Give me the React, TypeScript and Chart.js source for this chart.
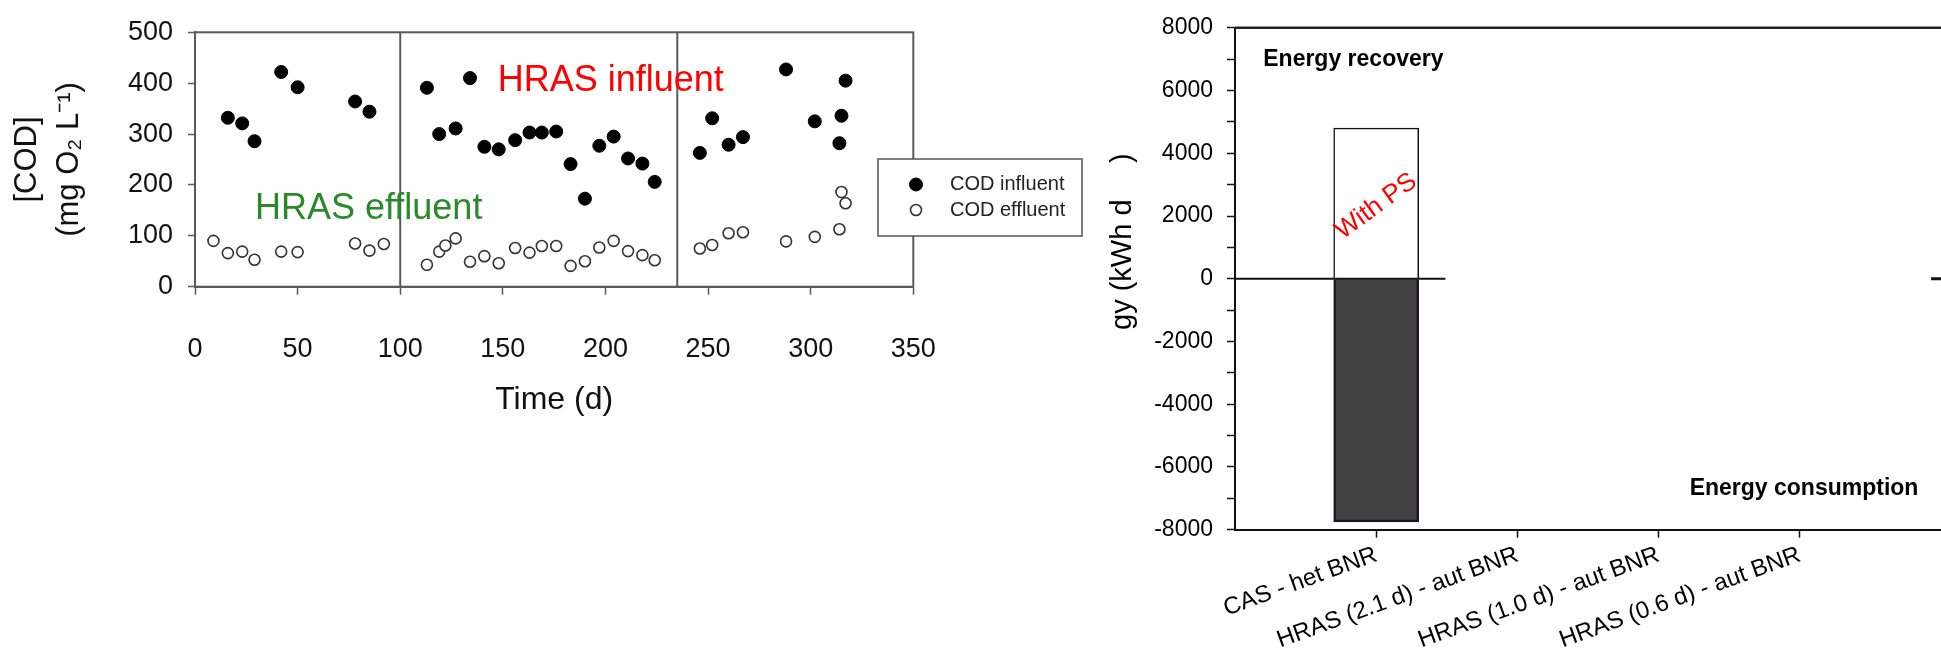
import React, { useEffect, useRef } from 'react';
import { Chart, registerables } from 'chart.js';

Chart.register(...registerables);

const FONT = '"Liberation Sans", Arial, Helvetica, sans-serif';

// ---------- Left panel: COD over time ----------
const influentDays = [16, 23, 29, 42, 50, 78, 85, 113, 119, 127, 134, 141, 148, 156, 163, 169, 176, 183, 190, 197, 204, 211, 218, 224, 246, 252, 260, 267, 288, 302, 314, 315, 317];
const influentCOD = [332, 321, 286, 422, 392, 364, 344, 391, 300, 311, 410, 275, 270, 288, 303, 303, 305, 241, 173, 277, 295, 252, 242, 206, 263, 331, 279, 294, 427, 325, 282, 336, 405];
const effluentDays = [9, 16, 23, 29, 42, 50, 78, 85, 92, 113, 119, 122, 127, 134, 141, 148, 156, 163, 169, 176, 183, 190, 197, 204, 211, 218, 224, 246, 252, 260, 267, 288, 302, 314, 315, 317];
const effluentCOD = [90, 66, 69, 53, 69, 68, 85, 71, 84, 43, 69, 81, 95, 49, 60, 46, 76, 67, 80, 80, 41, 50, 77, 90, 70, 62, 52, 75, 82, 105, 107, 89, 98, 113, 186, 164];
const phaseBoundaries = [100, 235];
const timeTicks = [0, 50, 100, 150, 200, 250, 300, 350];
const codTicks = [0, 100, 200, 300, 400, 500];

// ---------- Right panel: energy balance ----------
const categories = ['CAS - het BNR', 'HRAS (2.1 d) - aut BNR', 'HRAS (1.0 d) - aut BNR', 'HRAS (0.6 d) - aut BNR'];
const recoveryWithPS = [4800];
const consumption = [-7750];
const zeroLineSegments = [[0, 1.49], [4.93, 5]];

const leftPlugin = {
  id: 'leftDecor',
  beforeDatasetsDraw(chart: any) {
    const { ctx, chartArea: a, scales } = chart;
    ctx.save();
    ctx.strokeStyle = '#5a5a5a';
    ctx.lineWidth = 2;
    ctx.strokeRect(a.left, a.top, a.right - a.left, a.bottom - a.top);
    phaseBoundaries.forEach((d) => {
      const px = scales.x.getPixelForValue(d);
      ctx.beginPath();
      ctx.moveTo(px, a.top);
      ctx.lineTo(px, a.bottom);
      ctx.stroke();
    });
    ctx.restore();
  },
  afterDatasetsDraw(chart: any) {
    const { ctx, scales } = chart;
    ctx.save();
    ctx.font = `36px ${FONT}`;
    ctx.textAlign = 'left';
    ctx.textBaseline = 'alphabetic';
    ctx.fillStyle = '#ff0000';
    ctx.fillText('HRAS influent', scales.x.getPixelForValue(147.5), scales.y.getPixelForValue(385));
    ctx.fillStyle = '#2a8a2a';
    ctx.fillText('HRAS effluent', scales.x.getPixelForValue(29.2), scales.y.getPixelForValue(134));
    ctx.restore();
  },
  afterDraw(chart: any) {
    const { ctx } = chart;
    const ds = chart.data.datasets;
    ctx.save();
    const bx = 878, by = 159, bw = 204, bh = 77;
    ctx.fillStyle = '#fff';
    ctx.fillRect(bx, by, bw, bh);
    ctx.strokeStyle = '#555';
    ctx.lineWidth = 1.5;
    ctx.strokeRect(bx, by, bw, bh);
    const rows = [184.5, 210];
    ds.forEach((d: any, i: number) => {
      ctx.beginPath();
      ctx.arc(916, rows[i], d.pointRadius, 0, Math.PI * 2);
      ctx.fillStyle = d.pointBackgroundColor;
      ctx.fill();
      ctx.lineWidth = d.pointBorderWidth;
      ctx.strokeStyle = d.pointBorderColor;
      ctx.stroke();
      ctx.fillStyle = '#222';
      ctx.font = `20px ${FONT}`;
      ctx.textAlign = 'left';
      ctx.textBaseline = 'middle';
      ctx.fillText(d.label, 950, rows[i]);
    });
    ctx.restore();
  },
};

const rightPlugin = {
  id: 'rightDecor',
  afterDraw(chart: any) {
    const { ctx, chartArea: a, scales } = chart;
    ctx.save();
    // top frame line
    ctx.strokeStyle = '#222';
    ctx.lineWidth = 2.5;
    ctx.beginPath();
    ctx.moveTo(a.left, a.top);
    ctx.lineTo(a.right, a.top);
    ctx.stroke();

    // partially visible axis title
    ctx.save();
    ctx.translate(33, 330);
    ctx.rotate(-Math.PI / 2);
    ctx.font = `29px ${FONT}`;
    ctx.fillStyle = '#000';
    ctx.textAlign = 'left';
    ctx.textBaseline = 'middle';
    ctx.fillText('gy (kWh d', 0, 0);
    ctx.fillText(')', 167, 0);
    ctx.restore();

    ctx.font = `bold 23px ${FONT}`;
    ctx.fillStyle = '#000';
    ctx.textBaseline = 'middle';
    ctx.textAlign = 'left';
    ctx.fillText('Energy recovery', scales.x.getPixelForValue(0.2), scales.y.getPixelForValue(7000));
    ctx.textAlign = 'right';
    ctx.fillText('Energy consumption', scales.x.getPixelForValue(4.84), scales.y.getPixelForValue(-6705));

    ctx.save();
    ctx.translate(scales.x.getPixelForValue(1), scales.y.getPixelForValue(2306));
    ctx.rotate((-36 * Math.PI) / 180);
    ctx.font = `26px ${FONT}`;
    ctx.fillStyle = '#ff0000';
    ctx.textAlign = 'center';
    ctx.textBaseline = 'middle';
    ctx.fillText('With PS', 0, 0);
    ctx.restore();
    ctx.restore();
  },
};

export default function App() {
  const leftRef = useRef<HTMLCanvasElement>(null);
  const rightRef = useRef<HTMLCanvasElement>(null);

  useEffect(() => {
    const left = new Chart(leftRef.current as HTMLCanvasElement, {
      type: 'scatter',
      data: {
        datasets: [
          {
            label: 'COD influent',
            data: influentDays.map((d, i) => ({ x: d, y: influentCOD[i] })),
            pointRadius: 6.5,
            pointBackgroundColor: '#000',
            pointBorderColor: '#000',
            pointBorderWidth: 1,
            showLine: false,
          },
          {
            label: 'COD effluent',
            data: effluentDays.map((d, i) => ({ x: d, y: effluentCOD[i] })),
            pointRadius: 5.5,
            pointBackgroundColor: '#fff',
            pointBorderColor: '#333',
            pointBorderWidth: 1.6,
            showLine: false,
          },
        ],
      } as any,
      options: {
        animation: false,
        responsive: false,
        layout: { padding: { top: 32.3, right: 176.7, bottom: 0, left: 0 } },
        plugins: { legend: { display: false }, tooltip: { enabled: false } },
        scales: {
          x: {
            type: 'linear',
            min: 0,
            max: 350,
            afterBuildTicks: (s: any) => { s.ticks = timeTicks.map((v) => ({ value: v })); },
            afterFit: (s: any) => { s.height = 153.3; },
            ticks: { font: { family: FONT, size: 27 }, color: '#111', padding: 39, callback: (v: any) => String(v) },
            grid: { drawOnChartArea: false, drawTicks: true, tickLength: 8, tickColor: '#5a5a5a', tickWidth: 1.5 },
            border: { color: '#5a5a5a', width: 2 },
            title: { display: true, text: 'Time (d)', color: '#111', font: { family: FONT, size: 32 }, padding: { top: 0, bottom: 20.8 } },
          },
          y: {
            type: 'linear',
            min: 0,
            max: 500,
            afterBuildTicks: (s: any) => { s.ticks = codTicks.map((v) => ({ value: v })); },
            afterFit: (s: any) => { s.width = 195; },
            ticks: { font: { family: FONT, size: 27 }, color: '#111', padding: 15, callback: (v: any) => String(v) },
            grid: { drawOnChartArea: false, drawTicks: true, tickLength: 7, tickColor: '#5a5a5a', tickWidth: 1.5 },
            border: { color: '#5a5a5a', width: 2 },
            title: { display: true, text: ['[COD]', '(mg O\u2082 L\u207B\u00B9)'], color: '#111', font: { family: FONT, size: 31, lineHeight: 1.35 }, padding: { top: 7, bottom: 0 } },
          },
        },
      } as any,
      plugins: [leftPlugin],
    });

    const right = new Chart(rightRef.current as HTMLCanvasElement, {
      type: 'bar',
      data: {
        datasets: [
          {
            type: 'bar',
            label: 'With PS',
            data: recoveryWithPS.map((v, i) => ({ x: i + 1, y: v })),
            backgroundColor: '#ffffff',
            borderColor: '#111',
            borderWidth: 1.5,
            barThickness: 85,
            grouped: false,
            order: 2,
          },
          {
            type: 'bar',
            label: 'Energy consumption',
            data: consumption.map((v, i) => ({ x: i + 1, y: v })),
            backgroundColor: '#424242',
            borderColor: '#1c1426',
            borderWidth: 2.5,
            barThickness: 85,
            grouped: false,
            order: 2,
          },
          ...zeroLineSegments.map((seg, i) => ({
            type: 'line',
            label: 'zero' + i,
            data: seg.map((x) => ({ x, y: 0 })),
            borderColor: '#111',
            borderWidth: i === 0 ? 2 : 3,
            pointRadius: 0,
            order: 1,
          })),
        ],
      } as any,
      options: {
        animation: false,
        responsive: false,
        layout: { padding: { top: 18.3, right: 0, bottom: 0, left: 0 } },
        plugins: { legend: { display: false }, tooltip: { enabled: false } },
        scales: {
          x: {
            type: 'linear',
            min: 0,
            max: 5,
            offset: false,
            afterBuildTicks: (s: any) => { s.ticks = categories.map((_, i) => ({ value: i + 1 })); },
            afterFit: (s: any) => { s.height = 122.3; s.paddingLeft = 0; s.paddingRight = 0; },
            ticks: {
              autoSkip: false,
              minRotation: 20,
              maxRotation: 20,
              font: { family: FONT, size: 24 },
              color: '#000',
              padding: 3,
              callback: (v: any) => categories[Math.round(v) - 1] ?? '',
            },
            grid: { offset: false, drawOnChartArea: false, drawTicks: true, tickLength: 8, tickColor: '#111', tickWidth: 1.5 },
            border: { color: '#111', width: 2 },
          },
          y: {
            type: 'linear',
            min: -8000,
            max: 8000,
            afterFit: (s: any) => { s.width = 145; },
            ticks: {
              stepSize: 1000,
              autoSkip: false,
              font: { family: FONT, size: 23 },
              color: '#000',
              padding: 14,
              callback: (v: any) => (Math.round(v) % 2000 === 0 ? String(v) : ''),
            },
            grid: { drawOnChartArea: false, drawTicks: true, tickLength: 8, tickColor: '#111', tickWidth: 1.5 },
            border: { color: '#111', width: 2 },
          },
        },
      } as any,
      plugins: [rightPlugin],
    });

    return () => {
      left.destroy();
      right.destroy();
    };
  }, []);

  return (
    <div>
      <canvas
        ref={leftRef}
        width={1090}
        height={440}
        style={{ position: 'absolute', left: 0, top: 0, width: 1090, height: 440 }}
      />
      <canvas
        ref={rightRef}
        width={851}
        height={652}
        style={{ position: 'absolute', left: 1090, top: 0, width: 851, height: 652 }}
      />
    </div>
  );
}
